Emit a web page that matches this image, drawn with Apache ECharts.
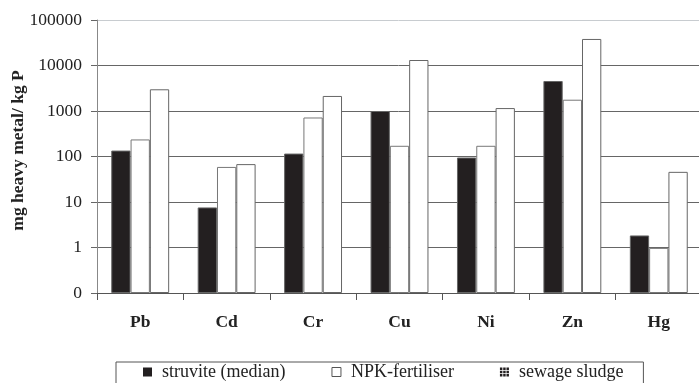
<!DOCTYPE html>
<html>
<head>
<meta charset="utf-8">
<script src="https://cdn.jsdelivr.net/npm/echarts@6/dist/echarts.min.js"></script>
<style>
  html, body { margin: 0; padding: 0; background: #fff; }
  #main { width: 699px; height: 383px; }
</style>
</head>
<body>
<div id="main"></div>
<script>
var metals = ['Pb', 'Cd', 'Cr', 'Cu', 'Ni', 'Zn', 'Hg'];
var struvite = [135, 7.6, 116, 1000, 95, 4560, 1.84];
var npk = [237, 59, 720, 172, 172, 1770, 0.98];
var sludge = [3000, 68, 2140, 13200, 1160, 38300, 46];
var yTicks = [0.1, 1, 10, 100, 1000, 10000, 100000];

var serif = '"Liberation Serif", "Times New Roman", serif';
var gridIcon = 'path://M0,0h3v3h-3z M4,0h3v3h-3z M8,0h3v3h-3z M0,4h3v3h-3z M4,4h3v3h-3z M8,4h3v3h-3z M0,8h3v3h-3z M4,8h3v3h-3z M8,8h3v3h-3z';

var chart = echarts.init(document.getElementById('main'));
var option = {
    animation: false,
    textStyle: { fontFamily: serif },
    grid: { left: 97, top: 20, right: -3, bottom: 90, outerBoundsMode: 'none', containLabel: false },
    legend: {
        left: 116,
        top: 362,
        width: 531,
        padding: [1, 20, 14, 27],
        borderColor: '#555',
        borderWidth: 1,
        itemGap: 46,
        itemWidth: 9,
        itemHeight: 9,
        textStyle: { fontFamily: serif, fontSize: 18, color: '#222', padding: [0, 0, 0, 5] },
        data: [
            { name: 'struvite (median)', icon: 'rect', itemStyle: { color: '#231f20', borderWidth: 0 } },
            { name: 'NPK-fertiliser', icon: 'rect', itemStyle: { color: '#fff', borderColor: '#555', borderWidth: 1 } },
            { name: 'sewage sludge', icon: gridIcon, itemStyle: { color: '#231f20', borderWidth: 0 } }
        ]
    },
    xAxis: {
        type: 'category',
        data: metals,
        axisLine: { lineStyle: { color: '#555', width: 1 } },
        axisTick: { show: true, length: 7, lineStyle: { color: '#555' } },
        axisLabel: { fontFamily: serif, fontSize: 17.5, fontWeight: 'bold', color: '#222', margin: 20 }
    },
    yAxis: {
        type: 'log',
        logBase: 10,
        min: 0.1,
        max: 100000,
        startValue: 0.1,
        name: 'mg heavy metal/ kg P',
        nameLocation: 'middle',
        nameGap: 70,
        nameRotate: 90,
        nameMoveOverlap: false,
        nameTextStyle: { fontFamily: serif, fontSize: 17.5, fontWeight: 'bold', color: '#222', padding: [0, 0, 0, 12] },
        axisLine: { show: true, lineStyle: { color: '#888' } },
        axisTick: { show: true, length: 6, lineStyle: { color: '#666' } },
        axisLabel: {
            fontFamily: serif, fontSize: 17.5, color: '#222', margin: 15,
            formatter: function (v) {
                return v < 1 ? '0' : String(Math.round(v));
            }
        },
        splitLine: {
            show: true,
            lineStyle: { color: ['#666', '#666', '#666', '#666', '#666', '#666', '#c8ccd0'], width: 1 }
        }
    },
    series: [
        {
            name: 'struvite (median)',
            type: 'bar',
            data: struvite,
            barGap: '0%',
            barCategoryGap: '33%',
            itemStyle: { color: '#231f20', borderColor: '#666', borderWidth: 1 }
        },
        {
            name: 'NPK-fertiliser',
            type: 'bar',
            data: npk,
            barGap: '0%',
            barCategoryGap: '33%',
            itemStyle: { color: '#fff', borderColor: '#777', borderWidth: 1 }
        },
        {
            name: 'sewage sludge',
            type: 'bar',
            data: sludge,
            barGap: '0%',
            barCategoryGap: '33%',
            itemStyle: { color: '#fff', borderColor: '#666', borderWidth: 1 }
        }
    ]
};
chart.setOption(option);
</script>
</body>
</html>
